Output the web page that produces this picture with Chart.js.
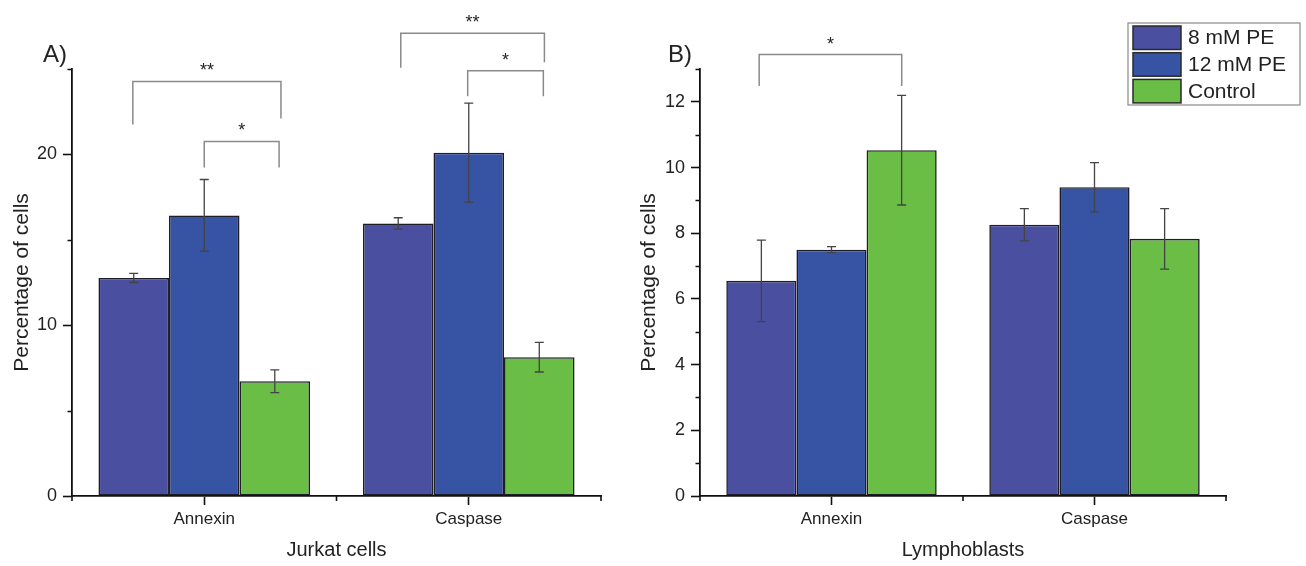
<!DOCTYPE html>
<html>
<head>
<meta charset="utf-8">
<script src="https://cdn.jsdelivr.net/npm/chart.js@4.4.1/dist/chart.umd.min.js"></script>
<style>
  html, body { margin: 0; padding: 0; background: #fff; }
  #wrap { position: relative; width: 1306px; height: 566px; overflow: hidden; }
  .box { position: absolute; top: 0; height: 566px; }
  #boxA { left: 0; width: 620px; }
  #boxB { left: 620px; width: 686px; }
</style>
</head>
<body>
<div id="wrap">
  <div class="box" id="boxA"><canvas id="chartA"></canvas></div>
  <div class="box" id="boxB"><canvas id="chartB"></canvas></div>
</div>
<script>
// ---- data ----
const categories = ["Annexin", "Caspase"];
const seriesNames = ["8 mM PE", "12 mM PE", "Control"];
const seriesColors = ["#4b4f9f", "#3753a4", "#6abd45"];

// A) Jurkat cells
const jurkat8 = [12.77, 15.96];
const jurkat12 = [16.43, 20.10];
const jurkatCtrl = [6.72, 8.13];
const jurkat8Err = [0.27, 0.33];
const jurkat12Err = [2.1, 2.9];
const jurkatCtrlErr = [0.67, 0.87];
const jurkatTicks = [0, 10, 20];

// B) Lymphoblasts
const lympho8 = [6.55, 8.26];
const lympho12 = [7.50, 9.40];
const lymphoCtrl = [10.53, 7.83];
const lympho8Err = [1.24, 0.49];
const lympho12Err = [0.09, 0.75];
const lymphoCtrlErr = [1.67, 0.92];
const lymphoTicks = [0, 2, 4, 6, 8, 10, 12];

// significance brackets (x in category units, y in data units)
const jurkatBrackets = [
  { label: "**", x1: -0.27, x2: 0.29, top: 24.27, end1: 21.75, end2: 22.1 },
  { label: "*", x1: 0.0, x2: 0.283, top: 20.76, end1: 19.24, end2: 19.24 },
  { label: "**", x1: 0.743, x2: 1.286, top: 27.1, end1: 25.07, end2: 25.4 },
  { label: "*", x1: 0.996, x2: 1.282, top: 24.9, end1: 23.4, end2: 23.4 }
];
const lymphoBrackets = [
  { label: "*", x1: -0.275, x2: 0.267, top: 13.44, end1: 12.48, end2: 12.48 }
];

Chart.defaults.font.family = "'Liberation Sans', Arial, sans-serif";
Chart.defaults.color = "#222";

// error bars, brackets, minor ticks, panel letter and legend
const extrasPlugin = {
  id: "extras",
  afterDatasetsDraw(chart, args, opts) {
    const ctx = chart.ctx;
    const x = chart.scales.x, y = chart.scales.y;
    const area = chart.chartArea;
    ctx.save();

    // error bars
    ctx.strokeStyle = "#444";
    ctx.lineWidth = 1.3;
    chart.data.datasets.forEach((ds, di) => {
      chart.getDatasetMeta(di).data.forEach((bar, i) => {
        const v = ds.data[i], e = ds.errors[i];
        const hi = y.getPixelForValue(v + e), lo = y.getPixelForValue(v - e);
        ctx.beginPath();
        ctx.moveTo(bar.x, hi); ctx.lineTo(bar.x, lo);
        ctx.moveTo(bar.x - 4.5, hi); ctx.lineTo(bar.x + 4.5, hi);
        ctx.moveTo(bar.x - 4.5, lo); ctx.lineTo(bar.x + 4.5, lo);
        ctx.stroke();
      });
    });

    // minor ticks
    ctx.strokeStyle = "#111";
    ctx.lineWidth = 1.6;
    ctx.beginPath();
    for (let v = y.min; v <= y.max + 1e-9; v += opts.minorStep) {
      if (opts.majorTicks.includes(v)) continue;
      const py = Math.round(y.getPixelForValue(v)) + 0.5;
      ctx.moveTo(area.left - 4.5, py); ctx.lineTo(area.left, py);
    }
    for (let i = 0; i <= categories.length; i++) {
      const px = x.getPixelForValue(i - 0.5);
      ctx.moveTo(px, area.bottom); ctx.lineTo(px, area.bottom + 5);
    }
    ctx.stroke();

    // significance brackets
    ctx.strokeStyle = "#8a8a8a";
    ctx.lineWidth = 1.5;
    ctx.fillStyle = "#222";
    ctx.font = "18px 'Liberation Sans', Arial, sans-serif";
    ctx.textAlign = "center";
    ctx.textBaseline = "alphabetic";
    opts.brackets.forEach(b => {
      const x1 = x.getPixelForValue(b.x1), x2 = x.getPixelForValue(b.x2);
      const top = y.getPixelForValue(b.top);
      ctx.beginPath();
      ctx.moveTo(x1, y.getPixelForValue(b.end1));
      ctx.lineTo(x1, top);
      ctx.lineTo(x2, top);
      ctx.lineTo(x2, y.getPixelForValue(b.end2));
      ctx.stroke();
      ctx.fillText(b.label, (x1 + x2) / 2, top - 5);
    });

    // panel letter
    ctx.font = "24px 'Liberation Sans', Arial, sans-serif";
    ctx.textAlign = "left";
    ctx.fillText(opts.panel, opts.panelX, 62);

    // legend box
    if (opts.legend) {
      const lx = opts.legend.x, ly = opts.legend.y;
      ctx.strokeStyle = "#8a8a8a";
      ctx.lineWidth = 1.2;
      ctx.strokeRect(lx, ly, 172, 82);
      ctx.font = "21px 'Liberation Sans', Arial, sans-serif";
      ctx.textBaseline = "middle";
      chart.data.datasets.forEach((ds, i) => {
        const ry = ly + 3 + i * 26.7;
        ctx.fillStyle = ds.backgroundColor;
        ctx.fillRect(lx + 5, ry, 48, 23.5);
        ctx.strokeStyle = "#2a2a2a";
        ctx.lineWidth = 1.5;
        ctx.strokeRect(lx + 5, ry, 48, 23.5);
        ctx.fillStyle = "#222";
        ctx.fillText(ds.label, lx + 60, ry + 12.5);
      });
    }
    ctx.restore();
  }
};

function makeDatasets(values, errors) {
  return values.map((vals, i) => ({
    label: seriesNames[i],
    data: vals,
    errors: errors[i],
    backgroundColor: seriesColors[i],
    borderColor: "#1e1e28",
    borderWidth: 1.6,
    borderSkipped: false,
    categoryPercentage: 0.8,
    barPercentage: 1.0
  }));
}

function buildChart(canvasId, cfg) {
  return new Chart(document.getElementById(canvasId), {
    type: "bar",
    data: { labels: categories, datasets: makeDatasets(cfg.values, cfg.errors) },
    plugins: [extrasPlugin],
    options: {
      responsive: true,
      maintainAspectRatio: false,
      animation: false,
      layout: { padding: { left: 0, top: 69, right: cfg.padRight, bottom: 0 } },
      plugins: {
        legend: { display: false },
        tooltip: { enabled: false },
        extras: {
          brackets: cfg.brackets,
          majorTicks: cfg.ticks,
          minorStep: cfg.step,
          panel: cfg.panel,
          panelX: cfg.panelX,
          legend: cfg.legend
        }
      },
      scales: {
        x: {
          grid: { display: true, drawOnChartArea: false, offset: false, tickLength: 9, tickWidth: 1.6, tickColor: "#111" },
          border: { display: true, color: "#111", width: 1.8 },
          ticks: { font: { size: 17 }, padding: 4, color: "#222" },
          title: { display: true, text: cfg.xTitle, font: { size: 20 }, padding: { top: 0, bottom: 4 }, color: "#222" },
          afterFit: s => { s.height = 70; }
        },
        y: {
          min: 0,
          max: cfg.max,
          grid: {
            drawOnChartArea: false, tickLength: 9, tickWidth: 1.6,
            tickColor: c => (c.tick && cfg.ticks.includes(c.tick.value)) ? "#111" : "rgba(0,0,0,0)"
          },
          border: { display: true, color: "#111", width: 1.8 },
          ticks: {
            stepSize: cfg.step,
            font: { size: 18 },
            padding: 6,
            color: "#222",
            callback: v => cfg.ticks.includes(v) ? v : ""
          },
          title: { display: true, text: "Percentage of cells", font: { size: 21 }, padding: { top: cfg.titlePad, bottom: 0 }, color: "#222" },
          afterFit: s => { s.width = cfg.axisWidth; }
        }
      }
    }
  });
}

buildChart("chartA", {
  values: [jurkat8, jurkat12, jurkatCtrl],
  errors: [jurkat8Err, jurkat12Err, jurkatCtrlErr],
  ticks: jurkatTicks, step: 5, max: 25,
  brackets: jurkatBrackets,
  xTitle: "Jurkat cells",
  panel: "A)", panelX: 43,
  padRight: 19, axisWidth: 72, titlePad: 10,
  legend: null
});

buildChart("chartB", {
  values: [lympho8, lympho12, lymphoCtrl],
  errors: [lympho8Err, lympho12Err, lymphoCtrlErr],
  ticks: lymphoTicks, step: 1, max: 13,
  brackets: lymphoBrackets,
  xTitle: "Lymphoblasts",
  panel: "B)", panelX: 48,
  padRight: 80, axisWidth: 80, titlePad: 17,
  legend: { x: 508, y: 23 }
});
</script>
</body>
</html>
